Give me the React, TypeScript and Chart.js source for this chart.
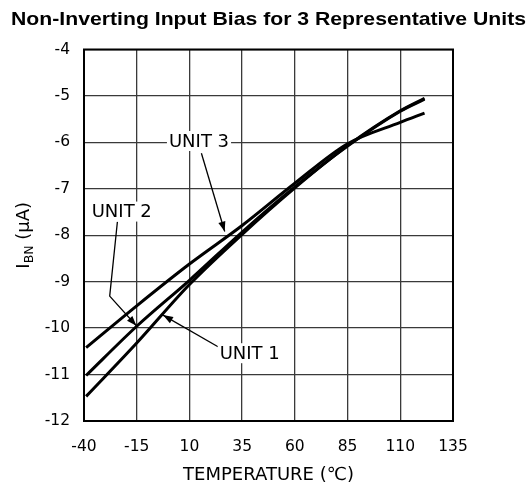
import { useEffect, useRef } from "react";
import { Chart, registerables } from "chart.js";

Chart.register(...registerables);

// ---- data ----
const temperatures = [-39, -15, 10, 35, 60, 85, 110, 121.5];
const unit1 = [-11.47, -10.32, -9.06, -7.98, -6.98, -6.07, -5.32, -5.05];
const unit2 = [-11.02, -9.96, -8.97, -7.93, -6.96, -6.08, -5.33, -5.07];
const unit3 = [-10.42, -9.52, -8.62, -7.79, -6.88, -6.03, -5.57, -5.37];

const xTickValues = [-40, -15, 10, 35, 60, 85, 110, 135];
const yTickValues = [-12, -11, -10, -9, -8, -7, -6, -5, -4];

const unitLabels = ["UNIT 1", "UNIT 2", "UNIT 3"];
const labelAnchors: [number, number][] = [
  [38.6, -10.54],
  [-22.1, -7.49],
  [14.54, -5.97],
];
const leaderPaths: [number, number][][] = [
  [[23.56, -10.4], [-2.53, -9.72]],
  [[-24.16, -7.71], [-27.81, -9.31], [-15.15, -9.95]],
  [[15.68, -6.235], [26.73, -7.92]],
];

const chartTitle = "Non-Inverting Input Bias for 3 Representative Units";
const xTitle = "TEMPERATURE (\u2103)";
const yTitleMain = "I";
const yTitleSub = "BN";
const yTitleRest = " (\u03bcA)";

const FONT = "'DejaVu Sans', 'Liberation Sans', sans-serif";
const TITLE_FONT = "bold 18.6px 'Liberation Sans', Arial, sans-serif";

const notesPlugin = {
  id: "notes",
  afterDatasetsDraw(chart: any) {
    const { ctx, chartArea: a, scales } = chart;
    const x = scales.x;
    const y = scales.y;
    ctx.save();
    // frame
    ctx.strokeStyle = "#000";
    ctx.lineWidth = 2;
    ctx.strokeRect(a.left, a.top, a.right - a.left, a.bottom - a.top);

    // leader lines with arrowheads
    ctx.lineWidth = 1.3;
    ctx.fillStyle = "#000";
    leaderPaths.forEach((path) => {
      const pts = path.map(([t, v]) => [x.getPixelForValue(t), y.getPixelForValue(v)]);
      ctx.beginPath();
      ctx.moveTo(pts[0][0], pts[0][1]);
      for (let i = 1; i < pts.length; i++) ctx.lineTo(pts[i][0], pts[i][1]);
      ctx.stroke();
      const [x1, y1] = pts[pts.length - 2];
      const [x2, y2] = pts[pts.length - 1];
      const ang = Math.atan2(y2 - y1, x2 - x1);
      const L = 10;
      const W = 3.6;
      const c = Math.cos(ang);
      const s = Math.sin(ang);
      ctx.beginPath();
      ctx.moveTo(x2, y2);
      ctx.lineTo(x2 - L * c + W * s, y2 - L * s - W * c);
      ctx.lineTo(x2 - L * c - W * s, y2 - L * s + W * c);
      ctx.closePath();
      ctx.fill();
    });

    // unit labels with white background
    ctx.font = `18px ${FONT}`;
    ctx.textAlign = "center";
    ctx.textBaseline = "middle";
    unitLabels.forEach((txt, i) => {
      const px = x.getPixelForValue(labelAnchors[i][0]);
      const py = y.getPixelForValue(labelAnchors[i][1]);
      const w = ctx.measureText(txt).width;
      ctx.fillStyle = "#fff";
      ctx.fillRect(px - w / 2 - 2, py - 10, w + 4, 20);
      ctx.fillStyle = "#000";
      ctx.fillText(txt, px, py + 1);
    });
    ctx.restore();

    // chart title (wide, bold)
    ctx.save();
    ctx.font = TITLE_FONT;
    const tw = ctx.measureText(chartTitle).width;
    const sx = 515 / tw;
    ctx.translate((a.left + a.right) / 2, 20);
    ctx.scale(sx, 1);
    ctx.textAlign = "center";
    ctx.textBaseline = "middle";
    ctx.fillStyle = "#000";
    ctx.fillText(chartTitle, 0, 0);
    ctx.restore();

    // y-axis title with subscript
    ctx.save();
    ctx.translate(29, (a.top + a.bottom) / 2);
    ctx.rotate(-Math.PI / 2);
    ctx.textAlign = "left";
    ctx.textBaseline = "alphabetic";
    const mainFont = `18px ${FONT}`;
    const subFont = `12.5px ${FONT}`;
    ctx.font = mainFont;
    const wI = ctx.measureText(yTitleMain).width;
    const wR = ctx.measureText(yTitleRest).width;
    ctx.font = subFont;
    const wS = ctx.measureText(yTitleSub).width;
    let cx = -(wI + wS + wR) / 2;
    ctx.font = mainFont;
    ctx.fillStyle = "#000";
    ctx.fillText(yTitleMain, cx, 0);
    cx += wI;
    ctx.font = subFont;
    ctx.fillText(yTitleSub, cx, 4);
    cx += wS;
    ctx.font = mainFont;
    ctx.fillText(yTitleRest, cx, 0);
    ctx.restore();
  },
};

export default function App() {
  const ref = useRef<HTMLCanvasElement | null>(null);

  useEffect(() => {
    if (!ref.current) return;
    const mk = (d: number[]) => temperatures.map((t, i) => ({ x: t, y: d[i] }));
    const lineStyle = {
      borderColor: "#000",
      borderWidth: 3,
      pointRadius: 0,
      fill: false,
      cubicInterpolationMode: "monotone" as const,
    };
    const chart = new Chart(ref.current, {
      type: "line",
      data: {
        datasets: [
          { label: unitLabels[0], data: mk(unit1), ...lineStyle },
          { label: unitLabels[1], data: mk(unit2), ...lineStyle },
          { label: unitLabels[2], data: mk(unit3), ...lineStyle },
        ],
      },
      options: {
        animation: false,
        responsive: false,
        devicePixelRatio: 1,
        events: [],
        layout: { padding: { left: 0, right: 79, top: 49.5, bottom: 0 } },
        plugins: {
          legend: { display: false },
          tooltip: { enabled: false },
          title: { display: false, text: chartTitle },
        },
        scales: {
          x: {
            type: "linear",
            min: -40,
            max: 135,
            afterBuildTicks: (scale: any) => {
              scale.ticks = xTickValues.map((v) => ({ value: v }));
            },
            afterFit: (scale: any) => {
              scale.height = 64;
            },
            grid: { color: "#3a3a3a", lineWidth: 1.3, drawTicks: false },
            border: { display: false },
            ticks: {
              color: "#000",
              padding: 17,
              font: { family: FONT, size: 15.5 },
              maxRotation: 0,
              autoSkip: false,
            },
            title: {
              display: true,
              text: xTitle,
              color: "#000",
              font: { family: FONT, size: 18, lineHeight: 1.1 },
              padding: { top: 0, bottom: 0 },
            },
          },
          y: {
            type: "linear",
            min: -12,
            max: -4,
            afterBuildTicks: (scale: any) => {
              scale.ticks = yTickValues.map((v) => ({ value: v }));
            },
            afterFit: (scale: any) => {
              scale.width = 84;
            },
            grid: { color: "#3a3a3a", lineWidth: 1.3, drawTicks: false },
            border: { display: false },
            ticks: {
              color: "#000",
              padding: 14,
              font: { family: FONT, size: 15.5 },
            },
          },
        },
      },
      plugins: [notesPlugin],
    });
    return () => chart.destroy();
  }, []);

  return (
    <div style={{ position: "absolute", left: 0, top: 0, width: 532, height: 485, background: "#fff" }}>
      <canvas ref={ref} width={532} height={485} />
    </div>
  );
}
